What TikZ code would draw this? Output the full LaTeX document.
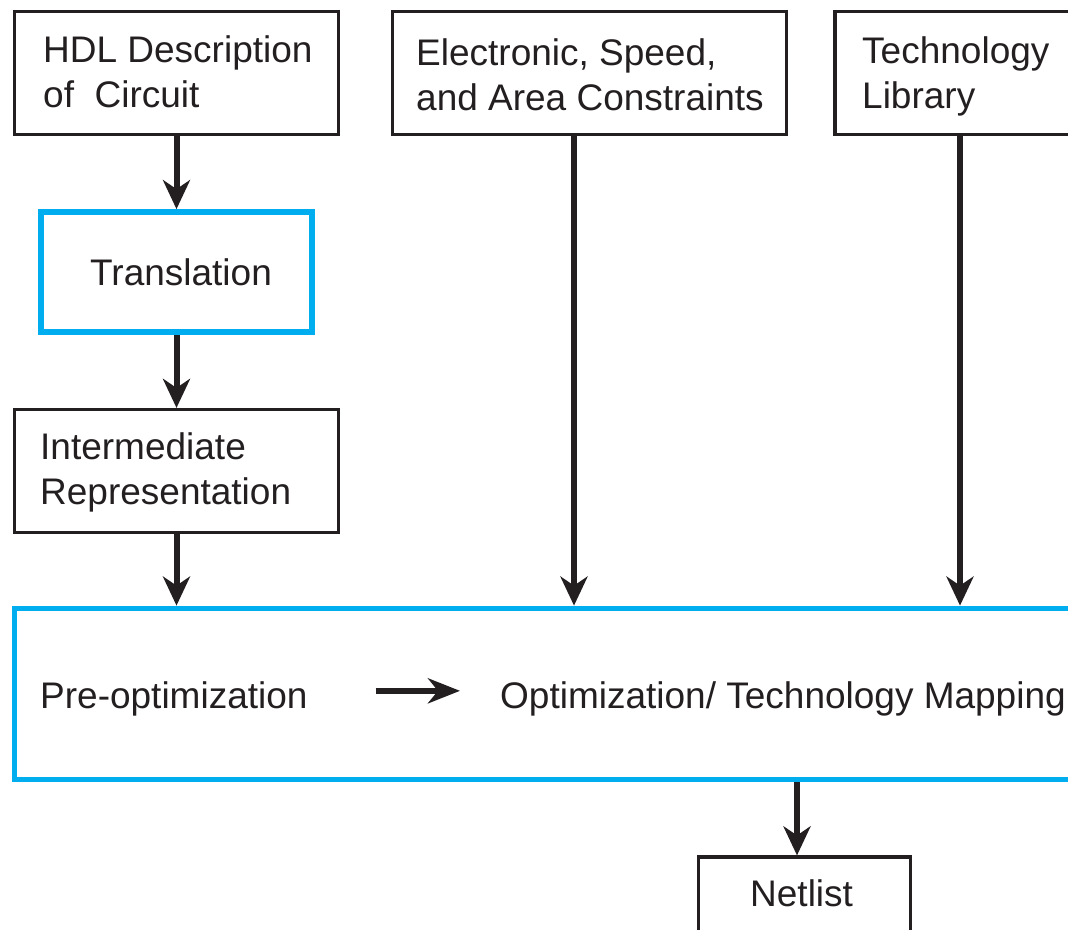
\documentclass[tikz,border=0pt]{standalone}
\usepackage{fontspec}
\setmainfont{Liberation Sans}
\usetikzlibrary{arrows.meta,calc}
\definecolor{cblue}{HTML}{00AEEF}
\definecolor{ink}{HTML}{231F20}
\begin{document}
\begin{tikzpicture}[x=1pt,y=-1pt,
  box/.style={draw=ink, line width=3.2pt, rectangle, inner sep=0pt},
  bluebox/.style={draw=cblue, line width=5.8pt, rectangle, inner sep=0pt},
  txt/.style={inner sep=0pt, align=left, font=\fontsize{37}{45}\selectfont, text=ink},
  flow/.style={draw=ink, line width=6pt, -{Stealth[length=29pt,width=27pt,inset=9pt]}}]
\useasboundingbox (0,0) rectangle (1068,929);
\clip (0,0) rectangle (1068,929);
% boxes
\node[box, minimum width=324pt, minimum height=123pt] (hdl) at (176.5,73) {};
\node[bluebox, minimum width=271pt, minimum height=120pt] (trans) at (176.5,272) {};
\node[box, minimum width=324pt, minimum height=123pt] (inter) at (176.5,471) {};
\node[box, minimum width=394pt, minimum height=123pt] (elec) at (589.5,73) {};
\node[box, minimum width=250pt, minimum height=123pt] (tech) at (960,73) {};
\node[bluebox, minimum width=1095pt, minimum height=171pt] (big) at (562,694) {};
\node[box, minimum width=212pt, minimum height=113pt] (net) at (804.5,913.5) {};
% texts
\node[txt, anchor=north west] (hdlt) at (43,35.5) {HDL Description\\of\ \ Circuit};
\node[txt, anchor=north west] (elect) at (416,38.5) {Electronic, Speed,\\and Area Constraints};
\node[txt, anchor=north west] (techt) at (862,36.5) {Technology\\Library};
\node[txt, anchor=base west] (transt) at (90,285) {Translation};
\node[txt, anchor=north west] (intert) at (40,432.5) {Intermediate\\Representation};
\node[txt, anchor=base west] (pre) at (40,708) {Pre-optimization};
\node[txt, anchor=base west] (opt) at (500,708) {Optimization/ Technology Mapping};
\node[txt, anchor=base west] (nett) at (750,906) {Netlist};
% connectors
\coordinate (ein) at ([xshift=-15.5pt]elec.south);
\coordinate (nin) at ([xshift=-7.5pt]net.north);
\draw[flow] (hdl.south) -- (trans.north);
\draw[flow] (trans.south) -- (inter.north);
\draw[flow] (inter.south) -- (inter.south |- big.north);
\draw[flow] (ein) -- (ein |- big.north);
\draw[flow] (tech.south) -- (tech.south |- big.north);
\draw[flow] (nin |- big.south) -- (nin);
\draw[flow, -{Stealth[length=32pt,width=25pt,inset=10pt]}] ([xshift=68pt,yshift=7.6pt]pre.east) -- ([xshift=-40pt,yshift=7.6pt]opt.west);
\end{tikzpicture}
\end{document}
